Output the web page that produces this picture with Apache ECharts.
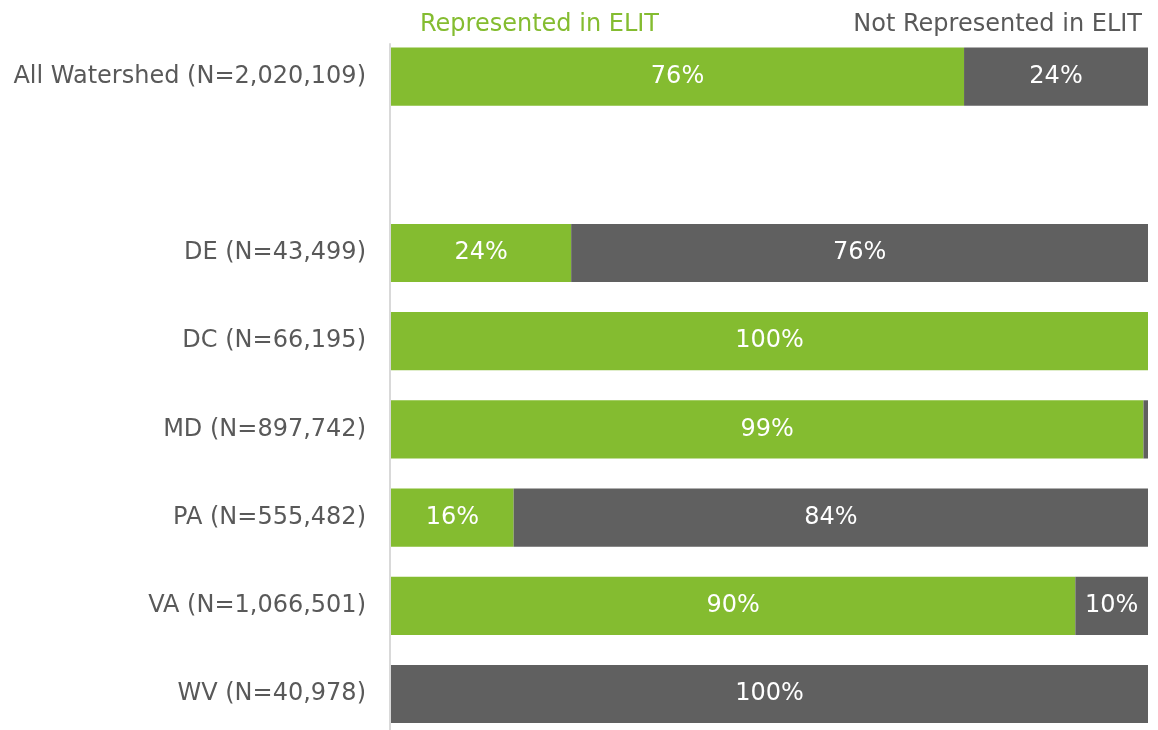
<!DOCTYPE html>
<html>
<head>
<meta charset="utf-8">
<script src="https://cdn.jsdelivr.net/npm/echarts@6/dist/echarts.min.js"></script>
<style>
  html, body { margin: 0; padding: 0; background: #ffffff; overflow: hidden; }
  #chart { width: 1158px; height: 740px; }
</style>
</head>
<body>
<div id="chart"></div>
<script>
// Share of each group's population represented in ELIT (percent)
const categories = [
  'All Watershed (N=2,020,109)',
  '',
  'DE (N=43,499)',
  'DC (N=66,195)',
  'MD (N=897,742)',
  'PA (N=555,482)',
  'VA (N=1,066,501)',
  'WV (N=40,978)'
];
const represented    = [75.7, null, 23.8, 100, 99.4, 16.2, 90.4, 0];
const notRepresented = [24.3, null, 76.2, 0,   0.6,  83.8, 9.6, 100];

const GREEN = '#84bc30';
const GREY = '#606060';
const TEXT = '#595959';
const FONT = 'DejaVu Sans, Verdana, sans-serif';

const chart = echarts.init(document.getElementById('chart'), null, { renderer: 'canvas' });

function pctLabel(p) {
  const v = p.value;
  if (v == null || v < 3) return '';
  return Math.round(v) + '%';
}

const barLabel = {
  show: true,
  position: 'inside',
  color: '#ffffff',
  fontSize: 24,
  fontFamily: FONT,
  formatter: pctLabel
};

chart.setOption({
  animation: false,
  backgroundColor: '#ffffff',
  textStyle: { fontFamily: FONT },
  legend: [
    {
      left: 410, top: 8,
      itemWidth: 0, itemHeight: 0, itemGap: 0,
      selectedMode: false,
      data: [{ name: 'Represented in ELIT', icon: 'rect', textStyle: { color: GREEN } }],
      textStyle: { fontSize: 24, fontFamily: FONT }
    },
    {
      right: 11, top: 8,
      itemWidth: 0, itemHeight: 0, itemGap: 0,
      selectedMode: false,
      data: [{ name: 'Not Represented in ELIT', icon: 'rect', textStyle: { color: TEXT } }],
      textStyle: { fontSize: 24, fontFamily: FONT }
    }
  ],
  grid: [
    { left: 391, right: 10, top: 32.5, height: 705.6, containLabel: false, outerBoundsMode: 'none' },
    // frame for the vertical baseline rule
    { left: 390, right: 10, top: 44, bottom: 10, containLabel: false, outerBoundsMode: 'none' }
  ],
  xAxis: [
    { gridIndex: 0, type: 'value', min: 0, max: 100, show: false },
    { gridIndex: 1, type: 'value', min: 0, max: 100, show: false }
  ],
  yAxis: [
    {
      gridIndex: 0,
      type: 'category',
      data: categories,
      inverse: true,
      axisLine: { show: false },
      axisTick: { show: false },
      splitLine: { show: false },
      axisLabel: {
        margin: 25,
        color: TEXT,
        fontSize: 24,
        fontFamily: FONT
      }
    },
    {
      gridIndex: 1,
      type: 'category',
      data: [''],
      axisLine: { show: true, lineStyle: { color: '#d9d9d9', width: 2 } },
      axisTick: { show: false },
      axisLabel: { show: false },
      splitLine: { show: false }
    }
  ],
  series: [
    {
      name: 'Represented in ELIT',
      type: 'bar',
      stack: 'share',
      xAxisIndex: 0, yAxisIndex: 0,
      barWidth: '66%',
      data: represented,
      itemStyle: { color: GREEN },
      label: barLabel
    },
    {
      name: 'Not Represented in ELIT',
      type: 'bar',
      stack: 'share',
      xAxisIndex: 0, yAxisIndex: 0,
      barWidth: '66%',
      data: notRepresented,
      itemStyle: { color: GREY },
      label: barLabel
    }
  ]
});
</script>
</body>
</html>
